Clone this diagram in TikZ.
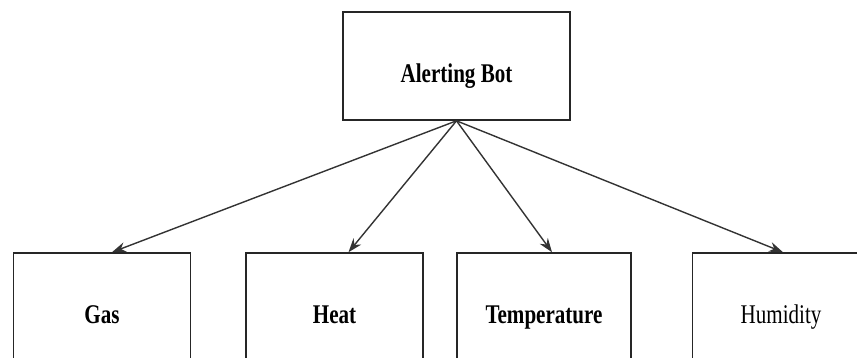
\documentclass[tikz,border=0pt]{standalone}
\usepackage{fontspec}
\newfontfamily\boxfont[FakeStretch=0.78]{Liberation Serif}
\usetikzlibrary{arrows.meta}

\begin{document}
\begin{tikzpicture}[x=1pt, y=-1pt,
    box/.style={draw=black!85, line width=1.6pt, minimum width=177pt, minimum height=108pt,
      inner sep=0pt, text height=32pt, text depth=0pt, font=\boxfont\fontsize{27}{30}\selectfont\bfseries},
    arr/.style={-{Stealth[length=14pt, width=10pt]}, line width=1.4pt, draw=black!80}]
            \useasboundingbox (0,0) rectangle (857,357);
            \clip (0,0) rectangle (857,357);
            % Define boxes
            \node[box, minimum width=227pt] (bot) at (456.5,66) {Alerting Bot};
            \node[box] (gas) at (102,307) {Gas};
            \node[box] (heat) at (334.5,307) {Heat};
            \node[box, minimum width=174pt] (temp) at (544,307) {Temperature};
            \node[box, font=\boxfont\fontsize{27}{30}\selectfont] (hum) at (781,307) {Humidity};
            % Draw arrows from the bot to each sensor
            \foreach \s/\d in {gas/10, heat/14, temp/8, hum/2}{
                \draw[arr] (bot.south) -- ([xshift=\d pt]\s.north);
            }
          \end{tikzpicture}
\end{document}
